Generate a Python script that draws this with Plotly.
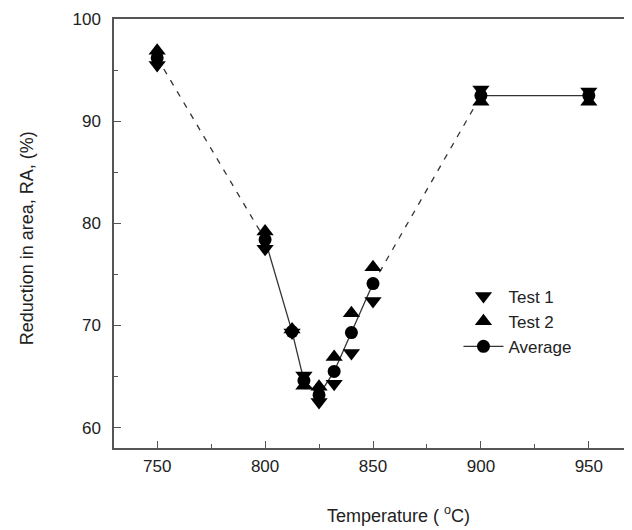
import plotly.graph_objects as go

temps = [750, 800, 812.5, 818, 825, 832, 840, 850, 900, 950]
test1 = [95.5, 77.5, 69.3, 65.1, 62.5, 64.3, 67.3, 72.4, 93.1, 92.9]
test2 = [96.9, 79.2, 69.6, 64.1, 64.0, 66.9, 71.2, 75.7, 91.9, 91.9]
average = [96.2, 78.4, 69.4, 64.6, 63.2, 65.5, 69.3, 74.1, 92.5, 92.5]

LINE = "#333333"
FONT = "Liberation Sans, Arial, sans-serif"

fig = go.Figure()

def seg(i0, i1, dash):
    fig.add_trace(go.Scatter(
        x=temps[i0:i1 + 1], y=average[i0:i1 + 1], mode="lines",
        line=dict(color=LINE, width=1.3, dash=dash),
        showlegend=False, hoverinfo="skip"))

seg(0, 1, "6px,7px")
seg(1, 7, "solid")
seg(7, 8, "6px,7px")
seg(8, 9, "solid")

fig.add_trace(go.Scatter(
    x=temps, y=average, mode="markers", name="Average",
    marker=dict(symbol="circle", size=13, color="black"),
    showlegend=False))
fig.add_trace(go.Scatter(
    x=temps, y=test1, mode="markers", name="Test 1", legendrank=1,
    marker=dict(symbol="triangle-down", size=15, color="black")))
fig.add_trace(go.Scatter(
    x=temps, y=test2, mode="markers", name="Test 2", legendrank=2,
    marker=dict(symbol="triangle-up", size=15, color="black")))
# legend entry for average (line + circle)
fig.add_trace(go.Scatter(
    x=[None], y=[None], mode="lines+markers", name="Average", legendrank=3,
    line=dict(color=LINE, width=1.3),
    marker=dict(symbol="circle", size=13, color="black")))

axis_common = dict(
    showline=True, linecolor="#555555", linewidth=1.5,
    ticks="inside", ticklen=7, tickwidth=1.2, tickcolor="#555555",
    showgrid=False, zeroline=False,
    tickfont=dict(family=FONT, size=17, color="#222222"),
)

# page body has an 8px margin, so the figure is sized to the visible area
fig.update_layout(
    width=624, height=522,
    margin=dict(l=106, r=0, t=11, b=82),
    paper_bgcolor="white", plot_bgcolor="white",
    showlegend=True,
    legend=dict(x=0.665, y=0.395, xanchor="left", yanchor="top",
                bgcolor="rgba(0,0,0,0)", font=dict(family=FONT, size=17, color="#222222"),
                tracegroupgap=0, itemwidth=40),
    xaxis=dict(range=[730, 970], tickvals=[750, 800, 850, 900, 950],
               mirror=True,
               minor=dict(tickvals=[775, 825, 875, 925], ticks="inside", ticklen=4,
                          tickcolor="#555555", tickwidth=1.2),
               ticklabelstandoff=2,
               **axis_common),
    yaxis=dict(range=[58, 100], tickvals=[60, 70, 80, 90, 100],
               minor=dict(tickvals=[65, 75, 85, 95], ticks="inside", ticklen=4,
                          tickcolor="#555555", tickwidth=1.2),
               ticklabelstandoff=8,
               **axis_common),
    annotations=[
        dict(text="Temperature ( <sup>o</sup>C)", xref="paper", yref="paper",
             x=0.55, y=-0.156, xanchor="center", yanchor="middle", showarrow=False,
             font=dict(family=FONT, size=18, color="#222222")),
        dict(text="Reduction in area, RA, (%)", xref="paper", yref="paper",
             x=-0.169, y=0.49, xanchor="center", yanchor="middle", showarrow=False,
             textangle=-90, font=dict(family=FONT, size=18, color="#222222")),
    ],
)

fig.write_html("out.html")
